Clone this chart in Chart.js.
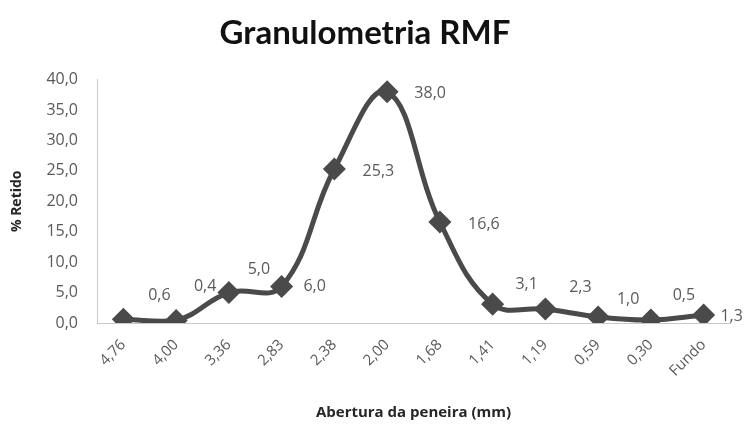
<!DOCTYPE html>
<html>
<head>
<meta charset="utf-8">
<script src="https://cdn.jsdelivr.net/npm/chart.js@4"></script>
<style>
  html, body { margin: 0; padding: 0; background: #fff; }
</style>
</head>
<body>
<canvas id="chart" width="747" height="425"></canvas>
<script>
// Abertura da peneira (mm) e % retido em cada peneira
const peneiras = ['4,76', '4,00', '3,36', '2,83', '2,38', '2,00', '1,68', '1,41', '1,19', '0,59', '0,30', 'Fundo'];
const retido = [0.6, 0.4, 5.0, 6.0, 25.3, 38.0, 16.6, 3.1, 2.3, 1.0, 0.5, 1.3];

// deslocamento de cada rótulo em relação ao ponto (px)
const labelOffsets = [
  [36, -24], [29, -34], [30, -23], [33, 0], [44, 2], [43, 2],
  [44, 2], [34, -20], [35, -22], [30, -17], [33, -25], [28, 1]
];

const fmt = v => v.toFixed(1).replace('.', ',');
const grey = '#5a5a5a';
const font = '"Open Sans", "Liberation Sans", sans-serif';

const valueLabels = {
  id: 'valueLabels',
  afterDatasetsDraw(chart) {
    const ctx = chart.ctx;
    const meta = chart.getDatasetMeta(0);
    ctx.save();
    ctx.font = '16px ' + font;
    ctx.fillStyle = grey;
    ctx.textAlign = 'center';
    ctx.textBaseline = 'middle';
    meta.data.forEach((pt, i) => {
      const [dx, dy] = labelOffsets[i];
      ctx.fillText(fmt(retido[i]), pt.x + dx, pt.y + dy);
    });
    ctx.restore();
  }
};

new Chart(document.getElementById('chart'), {
  type: 'line',
  data: {
    labels: peneiras,
    datasets: [{
      data: retido,
      borderColor: '#4a4a4a',
      backgroundColor: '#4a4a4a',
      borderWidth: 5,
      tension: 0.4,
      pointStyle: 'rectRot',
      pointRadius: 8,
      pointHoverRadius: 8,
      fill: false
    }]
  },
  options: {
    responsive: false,
    animation: false,
    layout: { padding: { left: 0, right: 17, top: 0, bottom: 0 } },
    plugins: {
      legend: { display: false },
      tooltip: { enabled: false },
      title: {
        display: true,
        text: 'Granulometria RMF',
        color: '#111',
        font: { family: 'Lato, ' + font, size: 33, weight: 'bold' },
        padding: { top: 14, bottom: 26 }
      }
    },
    scales: {
      x: {
        offset: true,
        grid: { display: false, drawTicks: false },
        border: { display: true, color: '#c8c8c8', width: 1 },
        ticks: {
          color: grey,
          font: { family: font, size: 15 },
          minRotation: 45,
          maxRotation: 45,
          padding: 13
        },
        title: {
          display: true,
          text: 'Abertura da peneira (mm)',
          color: '#262626',
          font: { family: font, size: 15, weight: 'bold' },
          padding: { top: 0, bottom: 3 }
        },
        afterFit(scale) { scale.height = 102; }
      },
      y: {
        min: 0,
        max: 40,
        grid: { display: false, drawTicks: false },
        border: { display: true, color: '#c8c8c8', width: 1 },
        ticks: {
          stepSize: 5,
          color: grey,
          font: { family: font, size: 16 },
          padding: 19,
          callback: v => fmt(v)
        },
        title: {
          display: true,
          text: '% Retido',
          color: '#262626',
          font: { family: font, size: 14, weight: 'bold' },
          padding: { top: 9, bottom: 10 }
        },
        afterFit(scale) { scale.width = 97; }
      }
    }
  },
  plugins: [valueLabels]
});
</script>
</body>
</html>
